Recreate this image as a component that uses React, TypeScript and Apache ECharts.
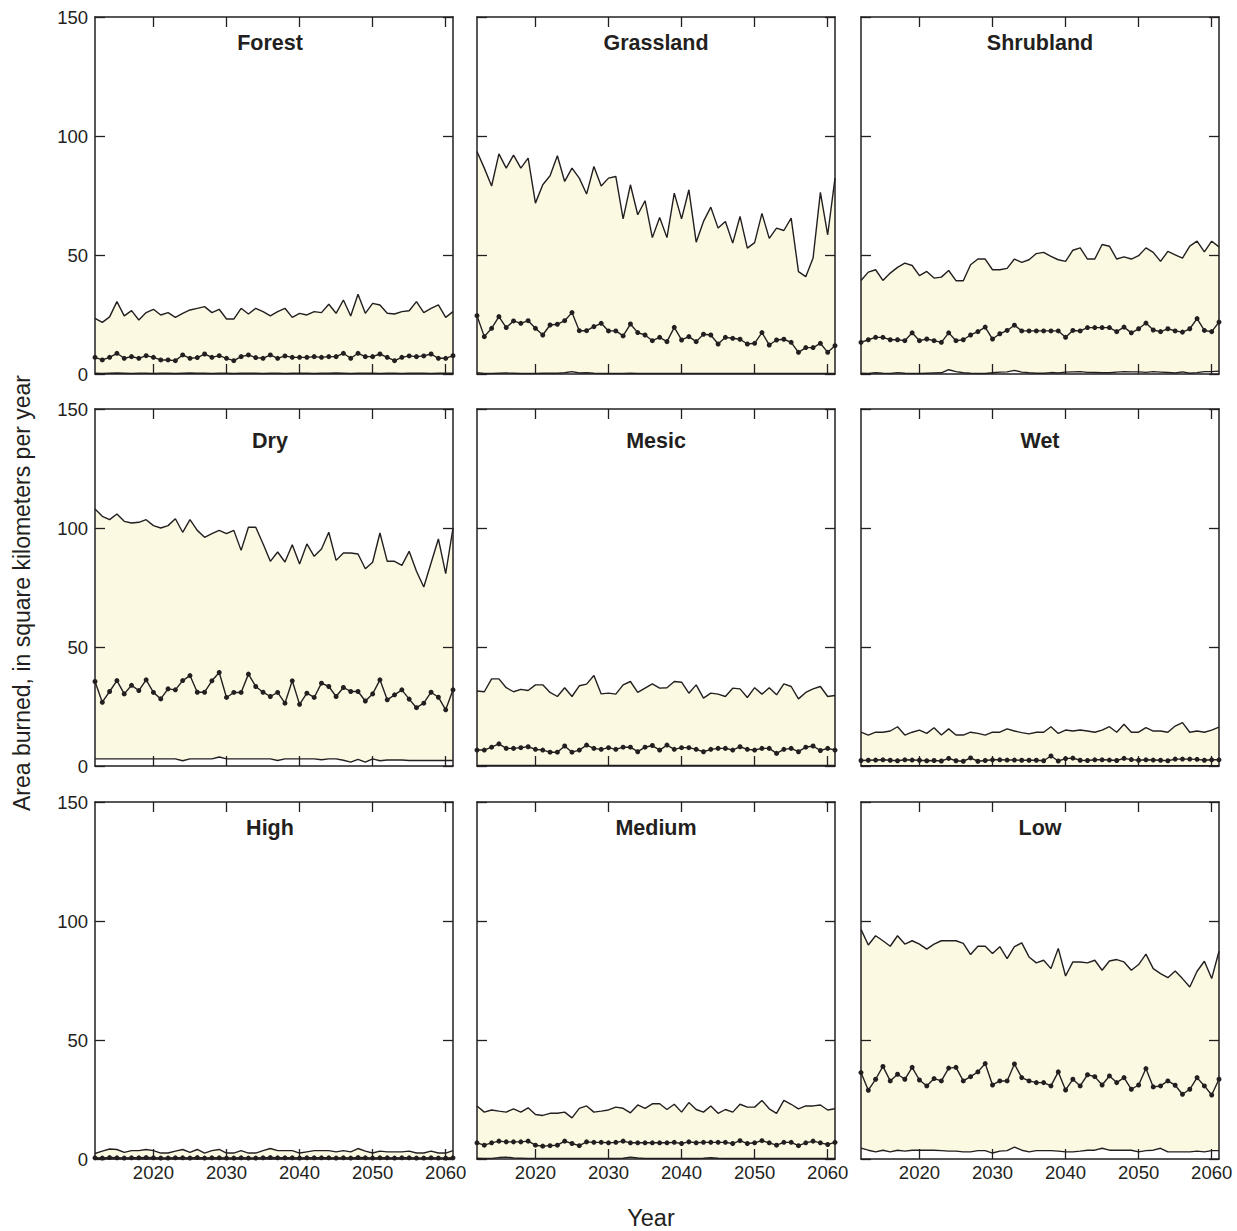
import React, { useEffect, useRef } from "react";
import * as echarts from "echarts";

const years = [
  "2012","2013","2014","2015","2016","2017","2018","2019","2020","2021",
  "2022","2023","2024","2025","2026","2027","2028","2029","2030","2031",
  "2032","2033","2034","2035","2036","2037","2038","2039","2040","2041",
  "2042","2043","2044","2045","2046","2047","2048","2049","2050","2051",
  "2052","2053","2054","2055","2056","2057","2058","2059","2060","2061",
];
const labeledYears = ["2020", "2030", "2040", "2050", "2060"];
const yTicks = [0, 50, 100, 150];

const forestUpper = [23.4,21.7,24.0,30.4,24.4,26.6,22.7,25.8,27.2,24.8,25.8,23.8,25.5,26.9,27.6,28.3,25.8,27.2,23.1,23.1,27.6,25.2,27.6,26.2,24.4,26.2,27.6,23.8,25.5,24.8,26.2,25.8,29.3,25.5,31.1,24.4,33.5,25.5,29.7,29.0,25.5,25.2,26.2,26.6,30.4,25.8,27.6,29.0,23.8,26.2];
const forestMean = [7.0,5.9,7.0,8.7,6.6,7.3,6.6,7.7,7.0,5.9,5.9,5.6,8.0,6.6,6.9,8.4,7.0,7.7,6.6,5.6,7.3,8.0,6.9,6.6,8.0,6.6,7.6,7.0,7.0,7.0,7.3,7.0,7.3,7.3,8.7,6.6,8.7,7.3,7.3,8.4,7.0,5.6,7.0,7.6,7.3,7.6,8.4,6.6,6.6,7.7];
const forestLower = [0.3,0.2,0.3,0.4,0.3,0.2,0.3,0.3,0.2,0.3,0.3,0.2,0.3,0.4,0.3,0.3,0.2,0.3,0.3,0.2,0.3,0.3,0.3,0.2,0.3,0.3,0.2,0.3,0.3,0.3,0.2,0.3,0.3,0.4,0.3,0.2,0.3,0.3,0.3,0.2,0.3,0.3,0.2,0.3,0.3,0.3,0.2,0.3,0.3,0.3];

const grassUpper = [93.5,86.5,79.0,92.5,86.5,92.0,86.5,90.7,71.8,79.5,83.3,91.7,80.9,86.5,82.3,75.6,87.2,79.0,82.3,83.0,65.2,79.5,66.9,72.8,57.3,65.8,57.3,76.0,65.2,77.4,55.4,64.1,70.1,61.3,64.1,55.0,66.2,52.9,55.2,67.5,57.0,61.3,60.3,65.5,43.0,40.9,48.7,76.3,58.5,82.3];
const grassMean = [24.5,15.7,19.2,24.1,19.5,22.3,21.3,22.4,19.2,16.4,20.6,20.9,22.4,25.8,18.2,18.2,19.9,21.3,18.1,18.1,16.0,21.0,17.4,16.4,14.0,15.4,13.6,19.6,14.3,15.7,13.6,16.7,16.4,12.6,15.4,15.0,14.6,12.6,12.9,17.4,12.2,14.3,14.6,13.3,9.1,11.1,11.1,12.9,9.1,11.9];
const grassLower = [0.6,0.2,0.2,0.3,0.4,0.3,0.2,0.2,0.2,0.3,0.3,0.3,0.5,1.0,0.4,0.5,0.3,0.2,0.2,0.2,0.2,0.3,0.2,0.2,0.2,0.2,0.2,0.2,0.2,0.2,0.2,0.2,0.2,0.2,0.2,0.2,0.2,0.2,0.2,0.2,0.2,0.2,0.2,0.2,0.2,0.2,0.2,0.2,0.2,0.2];

const shrubUpper = [39.3,42.8,43.8,39.3,42.4,44.8,46.6,45.6,41.3,43.1,40.3,40.7,43.5,39.2,39.2,45.9,48.3,48.3,43.8,43.8,44.4,48.3,46.9,48.0,50.6,51.1,49.4,48.0,47.3,52.0,53.0,48.3,48.3,54.4,53.7,48.3,49.2,48.3,49.7,53.0,51.1,47.3,51.5,50.1,48.7,53.7,55.8,51.3,55.8,53.4];
const shrubMean = [13.3,14.4,15.4,15.4,14.4,14.4,14.0,17.3,14.0,14.7,14.0,13.3,17.3,14.0,14.4,16.4,17.8,19.7,14.7,16.9,18.3,20.5,18.1,18.1,18.1,18.1,18.1,18.1,15.4,18.3,18.1,19.5,19.5,19.5,19.5,17.8,19.7,17.3,19.0,21.4,18.5,17.8,19.0,18.1,17.6,19.0,23.3,18.3,17.8,21.8];
const shrubLower = [0.3,0.2,0.5,0.3,0.2,0.6,0.3,0.2,0.2,0.3,0.4,0.5,1.8,1.0,0.5,0.3,0.2,0.2,0.5,0.8,0.9,1.5,0.8,0.5,0.3,0.3,0.6,0.4,0.8,0.9,1.0,0.7,0.6,0.5,0.5,0.8,1.0,0.9,0.9,0.7,1.0,0.8,0.6,0.4,0.9,0.3,0.6,1.0,1.0,1.2];

const dryUpper = [108.0,104.9,103.5,105.9,102.8,102.1,102.4,103.5,101.0,100.0,101.0,103.9,98.2,103.5,99.0,96.1,97.6,99.0,97.6,99.0,90.6,100.3,100.3,93.4,86.0,89.9,85.7,93.0,84.9,93.3,88.1,91.2,98.2,86.4,89.5,89.5,89.1,82.9,85.6,97.9,86.0,86.0,84.3,90.2,81.8,75.2,85.3,95.4,80.8,100.0];
const dryMean = [35.5,26.8,31.3,35.9,30.3,33.9,31.7,36.2,30.9,28.2,32.4,32.0,35.9,38.0,31.0,31.0,35.8,39.3,28.8,30.9,30.9,38.6,33.4,31.0,29.2,30.9,26.4,35.8,25.9,30.6,28.8,34.8,33.4,29.2,33.0,31.3,31.3,27.3,30.3,36.2,27.8,29.9,32.0,28.1,24.5,26.4,31.0,28.9,23.6,32.0];
const dryLower = [3.0,3.0,3.0,3.0,3.0,3.0,3.0,3.0,3.0,3.0,3.0,3.0,2.2,3.0,3.0,3.0,3.0,3.8,3.0,3.0,3.0,3.0,3.0,3.0,3.0,2.3,3.0,3.0,3.0,3.0,3.0,2.6,3.0,3.0,2.4,1.6,2.8,1.6,3.0,2.2,2.5,2.5,2.5,2.3,2.3,2.3,2.3,2.3,2.3,2.3];

const mesicUpper = [31.5,31.2,36.6,36.6,32.9,31.2,32.2,31.7,34.1,34.1,30.9,29.2,32.9,29.2,33.7,34.4,38.0,30.3,30.6,30.2,34.1,35.5,30.9,32.7,34.5,32.7,32.9,35.5,35.2,30.6,34.1,28.5,30.6,30.2,29.2,32.7,32.4,28.8,32.9,30.2,32.9,29.9,34.5,33.4,28.2,30.9,32.4,33.4,29.2,29.6];
const mesicMean = [6.7,6.7,7.9,9.3,7.4,7.4,7.7,8.1,7.0,6.7,5.8,5.8,8.4,5.8,6.7,8.8,7.4,7.0,7.7,7.0,7.9,7.9,6.0,7.9,8.6,6.7,8.8,7.0,7.7,7.7,7.0,6.0,7.0,7.4,7.4,6.7,8.1,7.0,6.7,7.4,7.4,5.3,7.0,7.4,6.0,7.9,8.4,6.5,7.4,6.7];
const mesicLower = [0.2,0.2,0.2,0.2,0.2,0.2,0.2,0.2,0.2,0.2,0.2,0.2,0.2,0.2,0.2,0.2,0.2,0.2,0.2,0.2,0.2,0.2,0.2,0.2,0.2,0.2,0.2,0.2,0.2,0.2,0.2,0.2,0.2,0.2,0.2,0.2,0.2,0.2,0.2,0.2,0.2,0.2,0.2,0.2,0.2,0.2,0.2,0.2,0.2,0.2];

const wetUpper = [14.2,13.0,14.2,14.2,14.7,16.5,13.0,14.2,15.1,13.7,16.1,13.0,15.6,13.0,13.0,14.2,13.7,13.0,14.2,14.2,15.6,14.7,14.0,13.5,14.2,14.2,16.5,13.7,15.1,14.7,15.1,14.7,14.2,15.1,16.5,14.2,17.5,14.2,14.2,16.1,14.7,14.7,14.2,16.8,18.2,14.2,14.7,14.2,15.1,16.3];
const wetMean = [2.3,2.4,2.5,2.6,2.4,2.2,2.6,2.5,2.4,2.2,2.3,2.1,3.2,2.2,2.0,3.4,2.0,2.3,2.6,2.6,2.5,2.5,2.4,2.4,2.4,2.2,4.2,2.1,3.1,3.3,2.4,2.3,2.6,2.6,2.5,2.3,3.2,2.7,2.4,2.6,2.5,2.4,2.2,2.9,2.9,2.9,2.8,2.4,2.6,2.6];
const wetLower = [0.1,0.1,0.1,0.1,0.1,0.1,0.1,0.1,0.1,0.1,0.1,0.1,0.1,0.1,0.1,0.1,0.1,0.1,0.1,0.1,0.1,0.1,0.1,0.1,0.1,0.1,0.1,0.1,0.1,0.1,0.1,0.1,0.1,0.1,0.1,0.1,0.1,0.1,0.1,0.1,0.1,0.1,0.1,0.1,0.1,0.1,0.1,0.1,0.1,0.1];

const highUpper = [2.3,3.3,4.2,4.0,2.8,3.5,3.5,4.0,3.5,2.5,2.5,3.3,4.0,2.8,4.0,2.5,3.5,4.0,2.5,2.5,3.5,2.5,2.5,3.5,4.4,3.5,3.5,3.5,2.5,3.0,3.5,3.5,3.5,3.0,3.5,3.0,4.4,3.3,2.5,3.3,3.0,3.0,3.0,3.3,2.5,2.5,3.3,2.5,2.5,3.5];
const highMean = [0.5,0.4,0.6,0.5,0.4,0.5,0.5,0.6,0.5,0.4,0.4,0.5,0.5,0.4,0.6,0.4,0.5,0.5,0.4,0.4,0.5,0.4,0.4,0.5,0.6,0.5,0.5,0.5,0.4,0.5,0.5,0.5,0.5,0.4,0.5,0.4,0.6,0.5,0.4,0.5,0.5,0.4,0.5,0.5,0.4,0.4,0.5,0.4,0.4,0.5];
const highLower = [0.05,0.05,0.05,0.05,0.05,0.05,0.05,0.05,0.05,0.05,0.05,0.05,0.05,0.05,0.05,0.05,0.05,0.05,0.05,0.05,0.05,0.05,0.05,0.05,0.05,0.05,0.05,0.05,0.05,0.05,0.05,0.05,0.05,0.05,0.05,0.05,0.05,0.05,0.05,0.05,0.05,0.05,0.05,0.05,0.05,0.05,0.05,0.05,0.05,0.05];

const mediumUpper = [22.3,19.7,20.6,20.1,19.7,21.1,19.7,21.5,18.7,18.3,19.2,19.2,19.7,17.3,21.3,22.3,19.7,20.1,20.6,21.8,21.3,19.4,22.7,21.3,23.2,23.2,20.8,23.0,19.7,23.7,20.8,19.7,22.3,19.2,20.8,19.7,23.0,21.8,21.8,24.6,21.1,19.2,24.6,23.0,21.1,22.3,22.3,22.7,20.6,21.1];
const mediumMean = [6.8,5.8,6.8,7.5,7.2,7.2,7.2,7.5,5.8,5.4,5.6,5.8,7.5,6.5,5.6,7.2,7.0,7.0,6.8,7.0,7.5,6.8,6.8,6.8,6.8,6.8,6.8,7.0,6.5,7.2,6.8,7.0,7.0,7.0,7.0,6.5,7.7,6.5,6.8,7.7,6.8,5.8,7.0,7.0,5.6,6.8,7.5,6.8,6.1,7.0];
const mediumLower = [0.3,0.2,0.2,0.6,0.8,0.4,0.3,0.2,0.2,0.2,0.2,0.2,0.2,0.2,0.2,0.2,0.2,0.2,0.2,0.2,0.3,0.8,0.4,0.2,0.2,0.2,0.2,0.2,0.2,0.2,0.2,0.3,0.5,0.3,0.2,0.2,0.2,0.2,0.2,0.2,0.2,0.2,0.2,0.2,0.2,0.2,0.2,0.2,0.2,0.2];

const lowUpper = [96.5,89.9,93.8,91.7,89.4,93.8,90.3,91.7,90.3,88.2,90.3,91.7,91.7,91.7,90.6,85.9,89.4,89.4,86.3,89.2,84.2,89.2,90.8,84.9,82.4,83.5,80.0,88.5,76.9,82.8,82.8,82.4,83.5,79.3,83.2,83.8,82.8,79.3,81.7,86.1,80.0,77.9,76.2,79.0,75.8,72.3,78.9,83.1,75.8,87.3];
const lowMean = [36.3,28.9,33.5,38.9,32.8,35.6,33.5,38.5,33.2,30.7,33.8,32.8,38.2,38.5,32.8,34.6,36.6,40.1,31.1,32.8,32.8,39.9,34.2,32.8,32.1,32.1,30.7,36.6,29.0,33.5,30.7,35.4,34.6,31.1,34.9,32.1,34.2,29.3,31.1,38.0,30.3,30.7,32.8,31.0,27.2,29.3,34.2,30.7,26.9,33.5];
const lowLower = [4.6,3.7,3.0,3.7,3.0,3.7,3.3,3.7,3.7,3.7,3.7,3.5,3.3,3.3,3.0,3.0,3.5,3.5,2.5,3.3,3.5,5.0,3.7,3.0,3.5,3.5,3.5,3.3,3.0,3.0,3.3,3.7,3.7,4.5,3.7,3.7,3.7,3.7,3.0,3.5,3.7,4.5,3.0,3.0,3.0,3.0,3.3,3.0,3.5,3.5];

const panelNames = ["Forest", "Grassland", "Shrubland", "Dry", "Mesic", "Wet", "High", "Medium", "Low"];
const panelUpper = [forestUpper, grassUpper, shrubUpper, dryUpper, mesicUpper, wetUpper, highUpper, mediumUpper, lowUpper];
const panelMean = [forestMean, grassMean, shrubMean, dryMean, mesicMean, wetMean, highMean, mediumMean, lowMean];
const panelLower = [forestLower, grassLower, shrubLower, dryLower, mesicLower, wetLower, highLower, mediumLower, lowLower];

const yAxisTitle = "Area burned, in square kilometers per year";
const xAxisTitle = "Year";

const INK = "#231F20";
const FILL = "#FCF9E3";
const FONT = '"Liberation Sans", Arial, Helvetica, sans-serif';

const colLeft = [95, 477, 861];
const rowTop = [17, 409, 802];
const PW = 358;
const PH = 357;
const titleOffset = [26, 32, 26];

function buildOption() {
  const grid: any[] = [];
  const xAxis: any[] = [];
  const yAxis: any[] = [];
  const series: any[] = [];
  const graphic: any[] = [];

  panelNames.forEach((name, i) => {
    const r = Math.floor(i / 3);
    const c = i % 3;
    grid.push({ left: colLeft[c], top: rowTop[r], width: PW, height: PH, containLabel: false });
    const tickInt = (_idx: number, v: string) => labeledYears.indexOf(v) >= 0;
    const xBase = {
      type: "category",
      data: years,
      gridIndex: i,
      boundaryGap: false,
      z: 10,
      axisLine: { show: true, onZero: false, lineStyle: { color: INK, width: 1.5 } },
      axisTick: { show: true, inside: true, length: 10, interval: tickInt, lineStyle: { color: INK, width: 1.3 } },
      splitLine: { show: false },
    };
    xAxis.push({
      ...xBase,
      position: "bottom",
      axisLabel: {
        show: r === 2,
        interval: tickInt,
        margin: 4,
        fontFamily: FONT,
        fontSize: 18.5,
        color: INK,
      },
    });
    xAxis.push({ ...xBase, position: "top", axisLabel: { show: false } });

    const yBase = {
      type: "value",
      gridIndex: i,
      min: 0,
      max: 150,
      interval: 50,
      z: 10,
      axisLine: { show: true, lineStyle: { color: INK, width: 1.5 } },
      axisTick: { show: true, inside: true, length: 10, lineStyle: { color: INK, width: 1.3 } },
      splitLine: { show: false },
    };
    yAxis.push({
      ...yBase,
      position: "left",
      axisLabel: {
        show: c === 0,
        margin: 7,
        fontFamily: FONT,
        fontSize: 18.5,
        color: INK,
        formatter: (v: number) => (yTicks.indexOf(v) >= 0 ? String(v) : ""),
      },
    });
    yAxis.push({ ...yBase, position: "right", axisLabel: { show: false } });

    const upper = panelUpper[i];
    const lower = panelLower[i];
    const mean = panelMean[i];
    const band = upper.map((u, j) => +(u - lower[j]).toFixed(2));
    const common = { type: "line", xAxisIndex: 2 * i, yAxisIndex: 2 * i, silent: true, animation: false };

    series.push({ ...common, data: lower, stack: "band" + i, symbol: "none", lineStyle: { opacity: 0, width: 0 }, z: 1 });
    series.push({ ...common, data: band, stack: "band" + i, symbol: "none", lineStyle: { opacity: 0, width: 0 }, areaStyle: { color: FILL, opacity: 1 }, z: 1 });
    series.push({ ...common, data: upper, symbol: "none", lineStyle: { color: INK, width: 1.4 }, z: 3 });
    series.push({ ...common, data: lower, symbol: "none", lineStyle: { color: INK, width: 1.4 }, z: 3 });
    series.push({
      ...common,
      data: mean,
      symbol: "circle",
      symbolSize: 5,
      showAllSymbol: true,
      itemStyle: { color: INK },
      lineStyle: { color: INK, width: 1.4 },
      z: 4,
    });

    graphic.push({
      type: "text",
      x: colLeft[c] + PW / 2 - (c === 0 ? 4 : 0),
      y: rowTop[r] + titleOffset[r],
      z: 20,
      style: {
        text: name,
        fontFamily: FONT,
        fontWeight: "bold",
        fontSize: 21.5,
        fill: INK,
        align: "center",
        verticalAlign: "middle",
        textAlign: "center",
        textVerticalAlign: "middle",
      },
    });
  });

  graphic.push({
    type: "text",
    x: 22,
    y: 593,
    rotation: Math.PI / 2,
    style: {
      text: yAxisTitle,
      fontFamily: FONT,
      fontSize: 23,
      fill: INK,
      align: "center",
      verticalAlign: "middle",
      textAlign: "center",
      textVerticalAlign: "middle",
    },
  });
  graphic.push({
    type: "text",
    x: 651,
    y: 1218,
    style: {
      text: xAxisTitle,
      fontFamily: FONT,
      fontSize: 23.5,
      fill: INK,
      align: "center",
      verticalAlign: "middle",
      textAlign: "center",
      textVerticalAlign: "middle",
    },
  });

  return {
    animation: false,
    backgroundColor: "#ffffff",
    grid,
    xAxis,
    yAxis,
    series,
    graphic,
  };
}

export default function App() {
  const ref = useRef<HTMLDivElement>(null);
  useEffect(() => {
    if (!ref.current) return;
    const chart = echarts.init(ref.current, undefined, { renderer: "svg" });
    chart.setOption(buildOption() as any);
    return () => chart.dispose();
  }, []);
  return (
    <div
      ref={ref}
      style={{ position: "absolute", left: 0, top: 0, width: 1237, height: 1231, background: "#fff" }}
    />
  );
}
